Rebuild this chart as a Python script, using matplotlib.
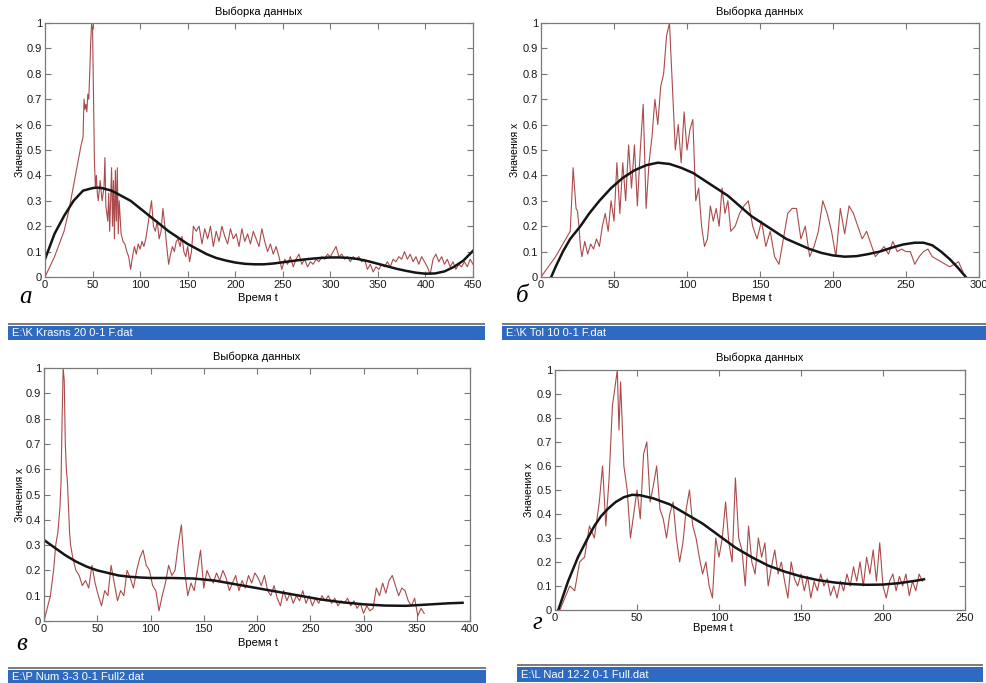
import matplotlib
matplotlib.use('Agg')
import matplotlib.pyplot as plt
import numpy as np
from matplotlib.patches import Rectangle

plt.rcParams['font.family'] = ['Liberation Sans', 'DejaVu Sans']

W, H = 986, 683

# ---- панель а : E:\K Krasns 20 0-1 F.dat ----
t_a1 = [0, 5, 10, 15, 20, 25, 30, 35, 38, 40, 41, 42, 43, 44, 45, 46, 47, 48, 49, 50,
        51, 52, 53, 54, 55, 56, 58, 60, 62, 63, 64, 66, 67, 68, 70, 71, 72, 73, 74, 75,
        76, 77, 78] + list(range(80, 157, 2))
x_a1 = [0, 0.04, 0.08, 0.13, 0.18, 0.26, 0.36, 0.46, 0.52, 0.55, 0.70, 0.66, 0.68, 0.65,
        0.72, 0.70, 0.80, 0.92, 1.0, 0.98, 0.70, 0.45, 0.35, 0.40, 0.33, 0.30, 0.38, 0.30,
        0.35, 0.47, 0.28, 0.22, 0.33, 0.18, 0.43, 0.20, 0.38, 0.15, 0.42, 0.22, 0.43, 0.17,
        0.30,
        0.17, 0.14, 0.13, 0.10, 0.08, 0.03, 0.08, 0.12, 0.09, 0.13, 0.11,
        0.14, 0.12, 0.15, 0.20, 0.25, 0.30,
        0.20, 0.18, 0.22, 0.15, 0.18, 0.27, 0.20, 0.12, 0.05,
        0.09, 0.12, 0.10, 0.14, 0.15, 0.12, 0.16, 0.10, 0.08, 0.12, 0.06, 0.10, 0.20]
x_a2 = [0.18, 0.20, 0.13, 0.19, 0.15, 0.20, 0.12, 0.18, 0.14, 0.20, 0.16, 0.13, 0.19, 0.15,
        0.17, 0.12, 0.19, 0.14, 0.17, 0.13, 0.18, 0.15, 0.12, 0.19, 0.14, 0.10, 0.13, 0.09,
        0.12, 0.08, 0.03, 0.07, 0.05, 0.08, 0.04, 0.07, 0.09, 0.05, 0.07, 0.04, 0.06, 0.05,
        0.07, 0.06, 0.08, 0.07, 0.09, 0.08, 0.10, 0.12, 0.08, 0.09, 0.07, 0.08, 0.06, 0.08,
        0.07, 0.08, 0.06, 0.07, 0.03, 0.05, 0.02, 0.04, 0.03, 0.05, 0.04, 0.06, 0.04, 0.07,
        0.06, 0.08, 0.07, 0.10, 0.07, 0.09, 0.06, 0.08, 0.05, 0.08, 0.06, 0.04, 0.01, 0.07,
        0.09, 0.06, 0.08, 0.05, 0.07, 0.04, 0.06, 0.03, 0.05, 0.04, 0.06, 0.04, 0.07, 0.05]
t_a2 = list(np.arange(159, 159 + 3 * len(x_a2), 3))
fit_t_a = [0, 10, 20, 30, 40, 50, 55, 60, 70, 80, 90, 100, 110, 120, 130, 140, 150, 160,
           170, 180, 190, 200, 210, 220, 230, 240, 250, 260, 270, 280, 290, 300, 310, 320,
           330, 340, 350, 360, 370, 380, 390, 400, 410, 420, 430, 440, 450]
fit_x_a = [0.07, 0.17, 0.24, 0.30, 0.34, 0.35, 0.352, 0.35, 0.34, 0.32, 0.30, 0.27, 0.24,
           0.21, 0.18, 0.155, 0.13, 0.11, 0.09, 0.075, 0.065, 0.057, 0.052, 0.05, 0.05,
           0.053, 0.058, 0.063, 0.068, 0.072, 0.075, 0.077, 0.077, 0.075, 0.07, 0.062, 0.052,
           0.042, 0.032, 0.024, 0.017, 0.013, 0.014, 0.022, 0.04, 0.065, 0.103]

# ---- панель б : E:\K Tol 10 0-1 F.dat ----
t_b1 = [0, 5, 10, 15, 20, 21, 22, 23, 24, 25, 26, 27, 28] + list(range(30, 131, 2))
x_b1 = [0, 0.04, 0.08, 0.13, 0.18, 0.30, 0.43, 0.35, 0.27, 0.26, 0.20, 0.12, 0.08,
        0.14, 0.09, 0.13, 0.11, 0.15, 0.12, 0.20, 0.25, 0.18, 0.30,
        0.22, 0.45, 0.25, 0.45, 0.30, 0.52, 0.35, 0.52, 0.28, 0.50,
        0.68, 0.27, 0.45, 0.55, 0.70, 0.60, 0.75, 0.80, 0.95, 1.0,
        0.75, 0.50, 0.60, 0.45, 0.65, 0.50, 0.58, 0.62, 0.30, 0.35,
        0.20, 0.12, 0.15, 0.28, 0.22, 0.27, 0.20, 0.35, 0.25, 0.30, 0.18]
x_b2 = [0.20, 0.25, 0.28, 0.30, 0.20, 0.15, 0.22, 0.12, 0.18, 0.08, 0.05, 0.15, 0.25, 0.27,
        0.27, 0.15, 0.20, 0.08, 0.12, 0.18, 0.30, 0.25, 0.18, 0.08, 0.27, 0.17, 0.28, 0.25,
        0.20, 0.15, 0.18, 0.13, 0.08, 0.10, 0.12, 0.09, 0.14, 0.10, 0.11, 0.10, 0.10, 0.05,
        0.08, 0.10, 0.11, 0.08, 0.07, 0.06, 0.05, 0.04, 0.05, 0.06, 0.02]
t_b2 = list(np.arange(133, 133 + 3 * len(x_b2), 3))
fit_t_b = [7, 10, 15, 20, 27, 33, 40, 48, 56, 64, 72, 80, 88, 96, 104, 112, 120, 128, 136,
           144, 152, 160, 168, 176, 184, 192, 200, 208, 216, 224, 232, 240, 248, 256, 262,
           268, 274, 280, 285, 291]
fit_x_b = [0, 0.04, 0.10, 0.15, 0.20, 0.25, 0.30, 0.35, 0.39, 0.42, 0.44, 0.45, 0.445,
           0.43, 0.41, 0.38, 0.35, 0.32, 0.28, 0.24, 0.21, 0.18, 0.15, 0.13, 0.11, 0.095,
           0.085, 0.08, 0.082, 0.09, 0.10, 0.115, 0.128, 0.135, 0.135, 0.125, 0.10, 0.07,
           0.04, 0.0]

# ---- панель в : E:\P Num 3-3 0-1 Full2.dat ----
t_c1 = [0, 3, 6, 9, 11, 13, 15, 16, 17, 18, 19, 20, 21, 22, 23, 24, 25, 27, 30]
x_c1 = [0, 0.05, 0.10, 0.20, 0.30, 0.35, 0.45, 0.55, 0.80, 1.0, 0.95, 0.70, 0.60, 0.55,
        0.45, 0.35, 0.30, 0.25, 0.20]
x_c2 = [0.18, 0.14, 0.16, 0.13, 0.22, 0.15, 0.10, 0.06, 0.12, 0.10, 0.22, 0.15, 0.08, 0.12,
        0.10, 0.20, 0.17, 0.13, 0.20, 0.25, 0.28, 0.22, 0.20, 0.14, 0.12, 0.04, 0.10, 0.15,
        0.22, 0.18, 0.20, 0.30, 0.38, 0.20, 0.10, 0.15, 0.12, 0.20, 0.28, 0.13, 0.20, 0.17,
        0.15, 0.19, 0.16, 0.20, 0.17, 0.12, 0.15, 0.18, 0.12, 0.16, 0.13, 0.18, 0.15, 0.19,
        0.17, 0.14, 0.18, 0.12, 0.10, 0.14, 0.09, 0.06, 0.12, 0.08, 0.11, 0.07, 0.10, 0.08,
        0.12, 0.07, 0.10, 0.06, 0.09, 0.07, 0.10, 0.08, 0.10, 0.07, 0.09, 0.06, 0.08, 0.07,
        0.09, 0.06, 0.08, 0.05, 0.07, 0.03, 0.06, 0.04, 0.05, 0.13, 0.10, 0.15, 0.11, 0.16,
        0.18, 0.14, 0.10, 0.13, 0.12, 0.08, 0.06, 0.09, 0.02, 0.05, 0.03]
t_c2 = list(np.arange(33, 33 + 3 * len(x_c2), 3))
fit_t_c = [0, 10, 20, 30, 40, 50, 60, 70, 80, 90, 100, 120, 140, 160, 180, 200, 220, 240,
           260, 280, 300, 320, 340, 360, 380, 393]
fit_x_c = [0.32, 0.29, 0.26, 0.235, 0.215, 0.20, 0.19, 0.18, 0.175, 0.172, 0.17, 0.17,
           0.168, 0.16, 0.145, 0.13, 0.115, 0.10, 0.085, 0.074, 0.066, 0.061, 0.06, 0.065,
           0.07, 0.072]

# ---- панель г : E:\L Nad 12-2 0-1 Full.dat ----
t_d1 = [3, 6, 9, 12, 15, 18, 21, 24, 27, 29, 31, 33, 35, 37, 38, 39, 40]
x_d1 = [0, 0.05, 0.10, 0.08, 0.20, 0.22, 0.35, 0.30, 0.45, 0.60, 0.35, 0.55, 0.85, 0.95,
        1.0, 0.75, 0.95]
x_d2 = [0.60, 0.50, 0.30, 0.40, 0.50, 0.38, 0.65, 0.70, 0.45, 0.52, 0.60, 0.42, 0.38, 0.30,
        0.40, 0.45, 0.30, 0.20, 0.28, 0.42, 0.50, 0.35, 0.30, 0.22, 0.15, 0.20, 0.10, 0.05,
        0.30, 0.22, 0.30, 0.45, 0.28, 0.20, 0.55, 0.30, 0.25, 0.10, 0.35, 0.20, 0.15, 0.30,
        0.22, 0.28, 0.10, 0.18, 0.25, 0.15, 0.20, 0.12, 0.05, 0.20, 0.13, 0.10, 0.15, 0.08,
        0.14, 0.05, 0.12, 0.08, 0.15, 0.10, 0.13, 0.06, 0.10, 0.05, 0.12, 0.08, 0.15, 0.10,
        0.18, 0.12, 0.20, 0.10, 0.22, 0.15, 0.25, 0.12, 0.28, 0.10, 0.05, 0.12, 0.15, 0.08,
        0.14, 0.10, 0.15, 0.06, 0.12, 0.08, 0.15, 0.12]
t_d2 = list(np.arange(42, 42 + 2 * len(x_d2), 2))
fit_t_d = [2, 5, 8, 11, 14, 17, 20, 24, 28, 32, 37, 42, 47, 52, 60, 70, 80, 90, 100, 110,
           120, 130, 140, 150, 160, 170, 180, 190, 200, 210, 220, 225]
fit_x_d = [0, 0.06, 0.12, 0.17, 0.22, 0.26, 0.30, 0.35, 0.39, 0.42, 0.45, 0.47, 0.48,
           0.478, 0.465, 0.44, 0.40, 0.36, 0.31, 0.26, 0.22, 0.185, 0.16, 0.14, 0.125, 0.115,
           0.108, 0.105, 0.106, 0.112, 0.122, 0.128]

y_ticks = [0, 0.1, 0.2, 0.3, 0.4, 0.5, 0.6, 0.7, 0.8, 0.9, 1]
y_ticklabels = ['0', '0.1', '0.2', '0.3', '0.4', '0.5', '0.6', '0.7', '0.8', '0.9', '1']

fig = plt.figure(figsize=(W / 100, H / 100), dpi=100)


def px_rect(l, t, r, b):
    return [l / W, 1 - b / H, (r - l) / W, (b - t) / H]


def panel(box, t_red, x_red, t_fit, x_fit, xmax, step, letter, letter_xy, xlab_xy, ylab_x,
          title_y, fname, bar):
    l, t, r, b = box
    ax = fig.add_axes(px_rect(l, t, r, b))
    ax.plot(t_red, x_red, color='#ab4a4c', lw=0.8)
    ax.plot(t_fit, x_fit, color='#151515', lw=1.8)
    ax.set_xlim(0, xmax)
    ax.set_ylim(0, 1)
    ax.set_xticks(np.arange(0, xmax + 1, step))
    ax.set_yticks(y_ticks)
    ax.set_yticklabels(y_ticklabels)
    ax.tick_params(direction='in', top=True, right=True, length=4, width=0.8,
                   color='#777777', labelsize=8, pad=2, labelcolor='#1a1a1a')
    for s in ax.spines.values():
        s.set_color('#7a7a7a')
        s.set_linewidth(0.9)
    # заголовок: title_y - центр текста в пикселях
    ax.set_title('Выборка данных', fontsize=8, pad=0, va='center',
                 y=1 + (t - title_y) / (b - t))
    ax.set_xlabel('Время t', fontsize=8)
    ax.xaxis.set_label_coords((xlab_xy[0] - l) / (r - l), -(xlab_xy[1] - b) / (b - t))
    ax.xaxis.label.set_va('center')
    ax.set_ylabel('Значения x', fontsize=7.5)
    ax.yaxis.set_label_coords((ylab_x - l) / (r - l), 0.5)
    ax.yaxis.label.set_va('center')
    fig.text(letter_xy[0] / W, 1 - letter_xy[1] / H, letter, family='Liberation Serif',
             style='italic', fontsize=18, ha='center', va='center')
    # строка состояния
    bx0, by0, bx1, by1 = bar
    fig.add_artist(Rectangle((bx0 / W, 1 - (by0 + 2) / H), (bx1 - bx0) / W, 2 / H,
                             transform=fig.transFigure, color='#7d7d7d', lw=0))
    fig.add_artist(Rectangle((bx0 / W, 1 - by1 / H), (bx1 - bx0) / W, (by1 - by0 - 3) / H,
                             transform=fig.transFigure, color='#2e6bc0', lw=0))
    fig.text((bx0 + 4) / W, 1 - (by0 + by1 + 3) / 2 / H, fname, color='white',
             fontsize=8, va='center')
    return ax


panel((45, 23, 473, 277), t_a1 + t_a2, x_a1 + x_a2, fit_t_a, fit_x_a, 450, 50,
      'а', (25, 297), (258, 298), 20, 12, r'E:\K Krasns 20 0-1 F.dat', (8, 323, 485, 340))
panel((541, 23, 979, 277), t_b1 + t_b2, x_b1 + x_b2, fit_t_b, fit_x_b, 300, 50,
      'б', (522, 296), (752, 298), 515, 12, r'E:\K Tol 10 0-1 F.dat', (502, 323, 986, 340))
panel((44, 368, 470, 621), t_c1 + t_c2, x_c1 + x_c2, fit_t_c, fit_x_c, 400, 50,
      'в', (22, 644), (258, 643), 20, 357, r'E:\P Num 3-3 0-1 Full2.dat', (8, 667, 486, 684))
panel((555, 370, 965, 610), t_d1 + t_d2, x_d1 + x_d2, fit_t_d, fit_x_d, 250, 50,
      'г', (537, 623), (713, 628), 529, 358, r'E:\L Nad 12-2 0-1 Full.dat', (517, 664, 983, 682))

fig.savefig('out.png', dpi=100)
